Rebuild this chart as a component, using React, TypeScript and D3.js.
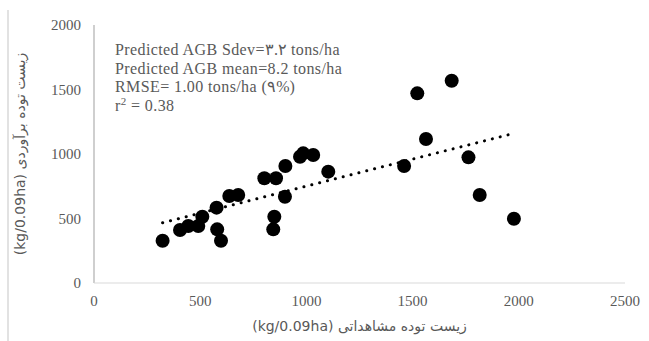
import React from 'react'
import * as d3 from 'd3'

// observed (x) vs estimated (y) biomass, kg/0.09ha
const observed = [323, 405, 444, 491, 510, 577, 580, 598, 637, 679, 802, 857, 844, 849, 901, 899, 970, 985, 1032, 1103, 1460, 1522, 1684, 1563, 1763, 1816, 1977]
const estimated = [328, 411, 442, 442, 514, 584, 416, 328, 674, 682, 812, 812, 416, 514, 907, 669, 979, 1005, 992, 863, 907, 1470, 1568, 1116, 974, 682, 498]

// linear trendline endpoints
const trendX = [323, 1977]
const trendY = [467, 1160]

const xTicks = [0, 500, 1000, 1500, 2000, 2500]
const yTicks = [0, 500, 1000, 1500, 2000]

const notes = [
    'Predicted AGB Sdev=۳.۲ tons/ha',
    'Predicted AGB mean=8.2 tons/ha',
    'RMSE= 1.00 tons/ha (۹%)',
]

const xTitle = 'زیست توده مشاهداتی (kg/0.09ha)'
const yTitle = 'زیست توده برآوردی (kg/0.09ha)'

export default function App() {
    const width = 649
    const height = 341
    const margin = { top: 25, right: 24, bottom: 58, left: 94 }

    const x = d3.scaleLinear().domain([0, 2500]).range([margin.left, width - margin.right])
    const y = d3.scaleLinear().domain([0, 2000]).range([height - margin.bottom, margin.top])

    const trendLine = d3.line<number>()
        .x(i => x(trendX[i]))
        .y(i => y(trendY[i]))([0, 1]) || ''

    const serif = '"Liberation Serif", "Times New Roman", serif'
    const sans = '"DejaVu Sans", sans-serif'
    const textColor = '#595959'

    return (
        <div style={{ position: 'fixed', left: 0, top: 0 }}>
            <svg width={width} height={height} viewBox={`0 0 ${width} ${height}`} style={{ display: 'block', background: '#fff' }}>
                {/* chart frame edge on the left */}
                <line x1={8} x2={8} y1={10} y2={height} stroke="#d9d9d9" strokeWidth={1.5} />

                {/* axes */}
                <line x1={x(0)} x2={x(0)} y1={y(0)} y2={y(2000)} stroke="#bfbfbf" strokeWidth={1.5} />
                <line x1={x(0)} x2={x(2500)} y1={y(0)} y2={y(0)} stroke="#d9d9d9" strokeWidth={1} />

                {yTicks.map(t => (
                    <text key={'y' + t} x={x(0) - 13} y={y(t)} dy="0.35em" textAnchor="end"
                        fontFamily={serif} fontSize={15} fill={textColor}>{t}</text>
                ))}
                {xTicks.map(t => (
                    <text key={'x' + t} x={x(t)} y={y(0) + 23} textAnchor="middle"
                        fontFamily={serif} fontSize={15} fill={textColor}>{t}</text>
                ))}

                {/* points */}
                {observed.map((v, i) => (
                    <circle key={i} cx={x(v)} cy={y(estimated[i])} r={7} fill="#000" />
                ))}

                {/* trendline */}
                <path d={trendLine} fill="none" stroke="#000" strokeWidth={3}
                    strokeDasharray="0.1 8" strokeLinecap="round" />

                {/* stats */}
                {notes.map((n, i) => (
                    <text key={n} x={115} y={55 + i * 18.5} fontFamily={serif} fontSize={16} letterSpacing={0.4} fill={textColor}>{n}</text>
                ))}
                <text x={115} y={55 + 3 * 18.5} fontFamily={serif} fontSize={16} letterSpacing={0.4} fill={textColor}>
                    r<tspan dy={-6} fontSize={11}>2</tspan><tspan dy={6}> = 0.38</tspan>
                </text>

                {/* axis titles */}
                <text x={(x(0) + x(2500)) / 2} y={331} textAnchor="middle" direction="rtl"
                    fontFamily={sans} fontSize={14} fill={textColor}>{xTitle}</text>
                <text transform={`translate(25,${(y(0) + y(2000)) / 2}) rotate(-90)`} textAnchor="middle" direction="rtl"
                    fontFamily={sans} fontSize={14} fill={textColor}>{yTitle}</text>
            </svg>
        </div>
    )
}
